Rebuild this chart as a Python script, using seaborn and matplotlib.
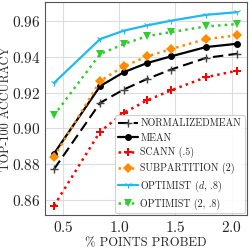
import numpy as np
import pandas as pd
import seaborn as sns
import matplotlib.pyplot as plt

sns.set_style("whitegrid")
plt.rcParams["font.family"] = ["cmr10", "DejaVu Serif"]
plt.rcParams["mathtext.fontset"] = "cm"
plt.rcParams["axes.formatter.use_mathtext"] = True

# % pontos sondados (eixo x)
probed = [0.42, 0.83, 1.04, 1.25, 1.46, 1.77, 2.05]

# acurácia top-100 por método
normalized_mean = [0.8771, 0.9143, 0.9218, 0.9278, 0.9330, 0.9395, 0.9419]
mean = [0.8858, 0.9237, 0.9315, 0.9367, 0.9404, 0.9456, 0.9475]
scann = [0.8566, 0.8982, 0.9087, 0.9158, 0.9213, 0.9287, 0.9324]
subpartition = [0.8840, 0.9265, 0.9348, 0.9404, 0.9445, 0.9501, 0.9522]
optimist_d = [0.9255, 0.9501, 0.9548, 0.9578, 0.9604, 0.9637, 0.9652]
optimist_2 = [0.9073, 0.9417, 0.9473, 0.9518, 0.9540, 0.9572, 0.9585]

labels = ["NORMALIZEDMEAN", "MEAN", "SCANN (.5)", "SUBPARTITION (2)",
          r"OPTIMIST ($d$, .8)", "OPTIMIST (2, .8)"]

fig, ax = plt.subplots(figsize=(2.49, 2.49), dpi=100)

sns.lineplot(x=probed, y=normalized_mean, ax=ax, color="black", linestyle=(0, (5, 2.5)),
             linewidth=1.5, marker="+", markersize=6, markeredgewidth=1.0,
             markeredgecolor="#444444", label=labels[0])
sns.lineplot(x=probed, y=mean, ax=ax, color="black", linestyle="-", linewidth=1.6,
             marker="o", markersize=5, markeredgewidth=0, label=labels[1])
sns.lineplot(x=probed, y=scann, ax=ax, color="red", linestyle=":", linewidth=1.8,
             marker="P", markersize=6, markeredgewidth=0, label=labels[2])
sns.lineplot(x=probed, y=subpartition, ax=ax, color="#ff8c00", linestyle=":", linewidth=1.8,
             marker="D", markersize=5.5, markeredgewidth=0, label=labels[3])
sns.lineplot(x=probed, y=optimist_d, ax=ax, color="#22b8f0", linestyle="-", linewidth=1.6,
             marker="1", markersize=5, markeredgewidth=0.8, markeredgecolor="#22b8f0",
             label=labels[4])
sns.lineplot(x=probed, y=optimist_2, ax=ax, color="#33cc33", linestyle=":", linewidth=1.8,
             marker="v", markersize=5.5, markeredgewidth=0, label=labels[5])

ax.set_yticks([0.86, 0.88, 0.90, 0.92, 0.94, 0.96])
ax.set_xticks([0.5, 1.0, 1.5, 2.0])
ax.tick_params(labelsize=11, length=0, pad=3)
ax.set_xlabel("% POINTS PROBED", fontsize=9, labelpad=2)
ax.set_ylabel("TOP-100 ACCURACY", fontsize=8.8, labelpad=0)

for s in ax.spines.values():
    s.set_color("#555555")
    s.set_linewidth(0.8)
ax.grid(color="#dddddd", linewidth=0.8)

leg = ax.legend(loc="lower right", fontsize=7.2, handlelength=2.0, handletextpad=0.2,
                labelspacing=0.45, borderpad=0.35, borderaxespad=0.2, framealpha=0.9)
leg.get_frame().set_edgecolor("#cccccc")
leg.get_frame().set_linewidth(0.8)

fig.subplots_adjust(left=0.18, right=0.99, top=0.99, bottom=0.135)
fig.savefig("out.png", dpi=100)
